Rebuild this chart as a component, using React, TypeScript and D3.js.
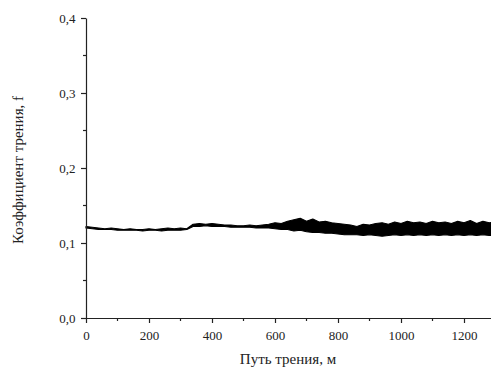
import { useEffect, useRef } from "react";
import * as d3 from "d3";

// Friction path, m (sampled every 20 m)
const distance = [
  0, 20, 40, 60, 80, 100, 120, 140, 160, 180, 200, 220, 240, 260, 280, 300, 320,
  340, 360, 380, 400, 420, 440, 460, 480, 500, 520, 540, 560, 580, 600, 620, 640,
  660, 680, 700, 720, 740, 760, 780, 800, 820, 840, 860, 880, 900, 920, 940, 960,
  980, 1000, 1020, 1040, 1060, 1080, 1100, 1120, 1140, 1160, 1180, 1200, 1220,
  1240, 1260, 1280, 1300,
];
// lower envelope of the friction coefficient
const fLow = [
  0.120, 0.119, 0.118, 0.118, 0.118, 0.117, 0.117, 0.117, 0.117, 0.116, 0.117,
  0.117, 0.116, 0.117, 0.117, 0.117, 0.118, 0.122, 0.122, 0.123, 0.122, 0.122,
  0.122, 0.121, 0.121, 0.121, 0.121, 0.120, 0.120, 0.120, 0.119, 0.118, 0.118,
  0.116, 0.117, 0.115, 0.114, 0.114, 0.113, 0.113, 0.112, 0.111, 0.111, 0.111,
  0.110, 0.111, 0.110, 0.109, 0.110, 0.111, 0.110, 0.111, 0.110, 0.111, 0.110,
  0.111, 0.110, 0.111, 0.110, 0.111, 0.110, 0.111, 0.110, 0.111, 0.110, 0.111,
];
// upper envelope of the friction coefficient
const fHigh = [
  0.122, 0.121, 0.120, 0.119, 0.120, 0.119, 0.118, 0.119, 0.118, 0.118, 0.119,
  0.118, 0.119, 0.120, 0.119, 0.120, 0.119, 0.125, 0.126, 0.125, 0.126, 0.125,
  0.124, 0.124, 0.123, 0.123, 0.124, 0.123, 0.124, 0.125, 0.127, 0.126, 0.129,
  0.131, 0.133, 0.129, 0.132, 0.128, 0.129, 0.127, 0.126, 0.125, 0.124, 0.122,
  0.125, 0.124, 0.126, 0.127, 0.125, 0.128, 0.126, 0.129, 0.127, 0.128, 0.126,
  0.129, 0.127, 0.128, 0.126, 0.129, 0.127, 0.130, 0.126, 0.129, 0.127, 0.128,
];

const xTicks = [0, 200, 400, 600, 800, 1000, 1200];
const xMinor = [100, 300, 500, 700, 900, 1100, 1300];
const yTicks = [0, 0.1, 0.2, 0.3, 0.4];
const yMinor = [0.05, 0.15, 0.25, 0.35];

const W = 491;
const H = 375;
const FONT = "'Liberation Serif', 'Times New Roman', serif";

export default function App() {
  const svgRef = useRef<SVGSVGElement>(null);

  useEffect(() => {
    document.body.style.margin = "0";
    if (!svgRef.current) return;
    const svg = d3.select(svgRef.current);
    svg.selectAll("*").remove();

    const x = d3.scaleLinear().domain([0, 1300]).range([86, 495.5]);
    const y = d3.scaleLinear().domain([0, 0.4]).range([318, 18]);
    const comma = (v: number) => d3.format(".1f")(v).replace(".", ",");

    const data = distance.map((d, i) => ({ d, lo: fLow[i], hi: fHigh[i] }));

    // Полоса значений (band)
    const area = d3.area<{ d: number; lo: number; hi: number }>()
      .x(p => x(p.d))
      .y0(p => y(p.lo))
      .y1(p => y(p.hi));
    svg.append("path")
      .datum(data)
      .attr("d", area)
      .attr("fill", "#000")
      .attr("stroke", "#000")
      .attr("stroke-width", 1.2)
      .attr("stroke-linejoin", "round");

    // Ось X
    const gx = svg.append("g")
      .attr("transform", `translate(0,${y(0)})`)
      .call(d3.axisBottom(x).tickValues(xTicks).tickSize(5).tickSizeOuter(0).tickFormat(d3.format("d")));
    gx.append("g").selectAll("line").data(xMinor).join("line")
      .attr("x1", d => x(d)).attr("x2", d => x(d)).attr("y1", 0).attr("y2", 3)
      .attr("stroke", "#222");

    // Ось Y
    const gy = svg.append("g")
      .attr("transform", `translate(${x(0)},0)`)
      .call(d3.axisLeft(y).tickValues(yTicks).tickSize(5).tickSizeOuter(0).tickFormat(d => comma(+d)));
    gy.append("g").selectAll("line").data(yMinor).join("line")
      .attr("y1", d => y(d)).attr("y2", d => y(d)).attr("x1", 0).attr("x2", -3)
      .attr("stroke", "#222");

    [gx, gy].forEach(g => {
      g.selectAll("path, line").attr("stroke", "#222").attr("stroke-width", 1.2);
      g.selectAll("text")
        .attr("fill", "#222")
        .attr("font-family", FONT)
        .attr("font-size", 13);
    });
    gx.selectAll(".tick text").attr("dy", "1.1em");
    gy.selectAll(".tick text").attr("dx", "-0.2em");

    svg.append("text")
      .attr("x", 288)
      .attr("y", 364)
      .attr("text-anchor", "middle")
      .attr("font-family", FONT)
      .attr("font-size", 15)
      .attr("fill", "#222")
      .text("Путь трения, м");

    svg.append("text")
      .attr("transform", `translate(23,170) rotate(-90)`)
      .attr("text-anchor", "middle")
      .attr("font-family", FONT)
      .attr("font-size", 15)
      .attr("fill", "#222")
      .text("Коэффициент трения, f");
  }, []);

  return <svg ref={svgRef} width={W} height={H} style={{ display: "block", background: "#fff" }} />;
}
